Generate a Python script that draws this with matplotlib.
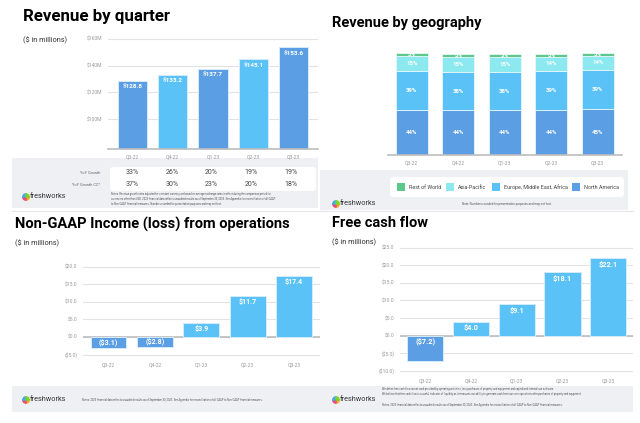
import matplotlib
matplotlib.use("Agg")
import matplotlib.pyplot as plt
from matplotlib.patches import Rectangle, FancyBboxPatch, Wedge

plt.rcParams['font.family'] = ['Roboto', 'DejaVu Sans']

W, H = 640, 423

quarters = ["Q3-22", "Q4-22", "Q1-23", "Q2-23", "Q3-23"]

# revenue by quarter ($M)
revenue = [128.8, 133.2, 137.7, 145.1, 153.6]
yoy_growth = ["33%", "26%", "20%", "19%", "19%"]
yoy_growth_cc = ["37%", "30%", "23%", "20%", "18%"]

# revenue by geography (%)
geo_names = ["North America", "Europe, Middle East, Africa", "Asia-Pacific", "Rest of World"]
north_america = [44, 44, 44, 44, 45]
emea = [39, 38, 38, 39, 39]
apac = [15, 15, 15, 14, 14]
rest_of_world = [3, 3, 3, 3, 3]

# non-GAAP income (loss) from operations ($M)
nongaap_income = [-3.1, -2.8, 3.9, 11.7, 17.4]

# free cash flow ($M)
free_cash_flow = [-7.2, 4.0, 9.1, 18.1, 22.1]

DARK = "#5b9ee3"
LIGHT = "#5ac2f6"
CYAN = "#8ce9f0"
GREEN = "#5cc98b"
BAND = "#eef0f3"
TICK = "#9a9a9a"
GRID = "#e3e3e3"


def rect(x0, y0, x1, y1):
    # pixel box -> figure fraction
    return [x0 / W, 1 - y1 / H, (x1 - x0) / W, (y1 - y0) / H]


def money(v):
    return "(${:.1f})".format(-v) if v < 0 else "${:.1f}".format(v)


def style_axes(ax, ylabels=True):
    for s in ["top", "right", "left"]:
        ax.spines[s].set_visible(False)
    ax.spines["bottom"].set_color("#bdbdbd")
    ax.spines["bottom"].set_linewidth(1.2)
    ax.tick_params(axis="both", length=0, labelsize=3.6, labelcolor=TICK, pad=4)
    ax.grid(axis="y", color=GRID, lw=0.8)
    ax.set_axisbelow(True)
    ax.set_facecolor("none")
    if not ylabels:
        ax.set_yticks([])


def logo(bg, x, y):
    cols = ["#f5a623", "#e94e77", "#3fa9f5", "#7ed321"]
    for i, c in enumerate(cols):
        bg.add_patch(Wedge((x, y), 3.2, i * 90, i * 90 + 90, color=c, zorder=3))
    bg.text(x + 4, y - 0.5, "freshworks", fontsize=5.2, color="#333333", va="center", zorder=3)


fig = plt.figure(figsize=(6.4, 4.23), dpi=100)
fig.patch.set_facecolor("white")

bg = fig.add_axes([0, 0, 1, 1])
bg.set_xlim(0, W)
bg.set_ylim(H, 0)
bg.axis("off")
bg.set_zorder(0)

# ---------- Revenue by quarter ----------
bg.text(23, 17, "Revenue by quarter", fontsize=12.2, fontweight="bold", va="center")
bg.text(23, 40, "($ in millions)", fontsize=5.3, va="center", color="#333333")
bg.add_patch(Rectangle((12, 158), 306, 50, color=BAND, lw=0))
bg.add_patch(FancyBboxPatch((110, 167), 206, 24, boxstyle="round,pad=0,rounding_size=3",
                            fc="white", ec="none"))
bg.text(100, 173, "YoY Growth", fontsize=2.8, color="#666666", ha="right", va="center")
bg.text(100, 184.5, "YoY Growth CC*", fontsize=2.8, color="#666666", ha="right", va="center")
for i in range(len(quarters)):
    xc = 132 + i * 39.8
    bg.text(xc, 173, yoy_growth[i], fontsize=5, color="#444444", ha="center", va="center")
    bg.text(xc, 184.5, yoy_growth_cc[i], fontsize=5, color="#444444", ha="center", va="center")
bg.text(111, 199,
        "Notes: Revenue growth rates adjusted for constant currency are based on average exchange rates in effect during the comparison period for\n"
        "currencies other than USD. 2023 financial data reflects unaudited results as of September 30, 2023. See Appendix for reconciliation of all GAAP\n"
        "to Non-GAAP financial measures. Numbers rounded for presentation purposes and may not foot.",
        fontsize=1.9, color="#555555", va="center", linespacing=1.3)
logo(bg, 26, 197)

ax1 = fig.add_axes(rect(108, 34, 318, 149))
x = range(len(quarters))
cols1 = [DARK if i % 2 == 0 else LIGHT for i in x]
ax1.bar(x, revenue, width=0.72, color=cols1, edgecolor="#d4ebfc", lw=0.7, zorder=2)
ax1.set_ylim(77.5, 163.7)
ax1.set_xlim(-0.6, 4.6)
ax1.set_yticks([100, 120, 140, 160])
ax1.set_yticklabels(["$100M", "$120M", "$140M", "$160M"])
ax1.set_xticks(list(x))
ax1.set_xticklabels(quarters)
style_axes(ax1)
for i, v in enumerate(revenue):
    ax1.annotate("${:.1f}".format(v), (i, v), xytext=(0, -4.5), textcoords="offset points",
                 ha="center", va="center", color="white", fontsize=4.6, fontweight="bold")

# ---------- Revenue by geography ----------
bg.text(332, 23, "Revenue by geography", fontsize=10.5, fontweight="bold", va="center")
bg.add_patch(Rectangle((320, 170), 308, 40, color=BAND, lw=0))
bg.add_patch(FancyBboxPatch((390, 177), 234, 20, boxstyle="round,pad=0,rounding_size=3",
                            fc="white", ec="none"))
leg = [("Rest of World", GREEN, 397), ("Asia-Pacific", CYAN, 446),
       ("Europe, Middle East, Africa", LIGHT, 492), ("North America", DARK, 572)]
for name, c, lx in leg:
    bg.add_patch(Rectangle((lx, 183), 8, 8, color=c, lw=0))
    bg.text(lx + 12, 187.3, name, fontsize=3.9, color="#444444", va="center")
bg.text(507, 204, "Note: Numbers rounded for presentation purposes and may not foot.",
        fontsize=2.1, color="#555555", ha="center", va="center")
logo(bg, 336, 204)

ax2 = fig.add_axes(rect(388, 52.7, 622, 155))
segments = [(north_america, DARK), (emea, LIGHT), (apac, CYAN), (rest_of_world, GREEN)]
bottom = [0] * len(quarters)
for vals, c in segments:
    ax2.bar(x, vals, bottom=bottom, width=0.69, color=c, edgecolor="#e8f6fd", lw=0.6, zorder=2)
    for i, v in enumerate(vals):
        ax2.text(i, bottom[i] + v / 2, "{}%".format(v), ha="center", va="center",
                 color="white", fontsize=4.3, fontweight="bold")
    bottom = [b + v for b, v in zip(bottom, vals)]
ax2.set_ylim(0, max(bottom))
ax2.set_xlim(-0.51, 4.52)
ax2.set_xticks(list(x))
ax2.set_xticklabels(quarters)
style_axes(ax2, ylabels=False)
ax2.grid(False)

# ---------- Non-GAAP income ----------
bg.plot([12, 320], [211, 211], color="#e6e6e6", lw=0.8)
bg.text(15, 224, "Non-GAAP Income (loss) from operations", fontsize=10.5, fontweight="bold", va="center")
bg.text(15, 243, "($ in millions)", fontsize=5.3, va="center", color="#333333")
bg.add_patch(Rectangle((12, 386), 308, 26, color=BAND, lw=0))
bg.text(82, 400, "Notes: 2023 financial data reflects unaudited results as of September 30, 2023. "
        "See Appendix for reconciliation of all GAAP to Non-GAAP financial measures.",
        fontsize=1.9, color="#555555", va="center")
logo(bg, 26, 400)

ax3 = fig.add_axes(rect(83, 262, 320, 357))
cols3 = [DARK if v < 0 else LIGHT for v in nongaap_income]
ax3.bar(x, nongaap_income, width=0.77, color=cols3, edgecolor="#d4ebfc", lw=0.7, zorder=2)
ax3.set_ylim(-5.7, 21.3)
ax3.set_xlim(-0.55, 4.56)
ax3.set_yticks([-5, 0, 5, 10, 15, 20])
ax3.set_yticklabels([money(t) for t in [-5, 0, 5, 10, 15, 20]])
ax3.set_xticks(list(x))
ax3.set_xticklabels(quarters)
style_axes(ax3)
ax3.axhline(0, color="#bdbdbd", lw=1.2, zorder=1)
ax3.spines["bottom"].set_visible(False)
for i, v in enumerate(nongaap_income):
    off = -4.2 if v > 0 else 3.8
    ax3.annotate(money(v), (i, v), xytext=(0, off), textcoords="offset points",
                 ha="center", va="center", color="white", fontsize=5, fontweight="bold")

# ---------- Free cash flow ----------
bg.plot([320, 633], [211, 211], color="#e6e6e6", lw=0.8)
bg.text(332, 223, "Free cash flow", fontsize=10.5, fontweight="bold", va="center")
bg.text(332, 242, "($ in millions)", fontsize=5.3, va="center", color="#333333")
bg.add_patch(Rectangle((320, 386), 313, 26, color=BAND, lw=0))
bg.text(382, 391.5,
        "We define free cash flow as net cash provided by operating activities, less purchases of property and equipment and capitalized internal-use software.\n"
        "We believe that free cash flow is a useful indicator of liquidity as it measures our ability to generate cash from our core operations after purchases of property and equipment.",
        fontsize=1.9, color="#555555", va="center", linespacing=1.3)
bg.text(382, 405, "Notes: 2023 financial data reflects unaudited results as of September 30, 2023. "
        "See Appendix for reconciliation of all GAAP to Non-GAAP financial measures.",
        fontsize=1.9, color="#555555", va="center")
logo(bg, 336, 400)

ax4 = fig.add_axes(rect(400, 244, 633, 373))
cols4 = [DARK if v < 0 else LIGHT for v in free_cash_flow]
ax4.bar(x, free_cash_flow, width=0.79, color=cols4, edgecolor="#d4ebfc", lw=0.7, zorder=2)
ax4.set_ylim(-10.6, 26.0)
ax4.set_xlim(-0.55, 4.54)
ticks4 = [-10, -5, 0, 5, 10, 15, 20, 25]
ax4.set_yticks(ticks4)
ax4.set_yticklabels([money(t) for t in ticks4])
ax4.set_xticks(list(x))
ax4.set_xticklabels(quarters)
style_axes(ax4)
ax4.axhline(0, color="#bdbdbd", lw=1.2, zorder=1)
ax4.spines["bottom"].set_visible(False)
for i, v in enumerate(free_cash_flow):
    off = -5 if v > 0 else 14
    ax4.annotate(money(v), (i, v), xytext=(0, off), textcoords="offset points",
                 ha="center", va="center", color="white", fontsize=5.3, fontweight="bold")

fig.savefig("out.png", dpi=100)
